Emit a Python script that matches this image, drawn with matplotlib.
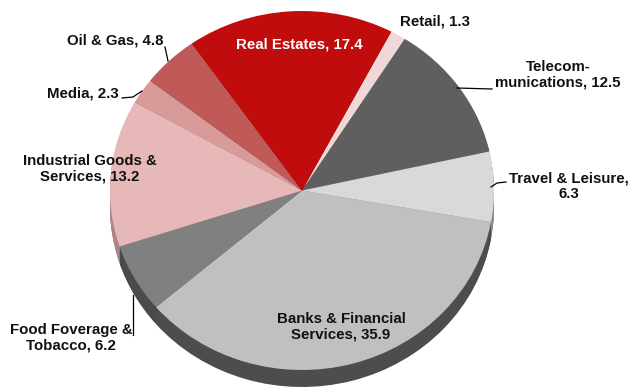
import matplotlib
matplotlib.use('Agg')
import matplotlib.pyplot as plt

sectors = ['Retail', 'Telecom-\nmunications', 'Travel & Leisure,\n', 'Banks & Financial\nServices',
           'Food Foverage &\nTobacco', 'Industrial Goods &\nServices', 'Media', 'Oil & Gas', 'Real Estates']
values = [1.3, 12.5, 6.3, 35.9, 6.2, 13.2, 2.3, 4.8, 17.4]
top_colors = ['#f0d8d8', '#5f5f5f', '#d9d9d9', '#c0c0c0', '#808080', '#e6b8b8', '#d99a9a', '#c05a58', '#c00c0c']
side_colors = ['#a89090', '#4d4d4d', '#8c8c8c', '#4d4d4d', '#4a4a4a', '#b08484', '#a07070', '#8a4040', '#800808']

W, H = 632, 389
cx, cy, rx, ry = 302, 190.5, 192, 179.5
depth = 17
start = 62.3

# label centre in pixels from the top left, and text colour
label_pos = [(435, 21), (558, 75), (569, 186), (341, 327), (71, 338), (90, 169), (83, 93), (115, 40), (299, 44)]
label_colors = ['#111111'] * 8 + ['white']

# leader lines in pixels
leaders = [
    [(165, 47), (168, 61)],
    [(122, 98), (133, 97), (142, 91)],
    [(457, 88), (492, 89)],
    [(491, 187), (497, 183), (506, 182)],
    [(133, 295), (133, 335)],
]

plt.rcParams['font.family'] = ['Liberation Sans', 'DejaVu Sans']

fig = plt.figure(figsize=(W / 100, H / 100), dpi=100)
ax = fig.add_axes([0, 0, 1, 1])

# extruded rim: stacked copies of the pie, lowest first
for d in range(depth, 0, -1):
    ax.pie(values, colors=side_colors, startangle=start, counterclock=False,
           center=(0, -d / ry), wedgeprops={'linewidth': 0})
ax.pie(values, colors=top_colors, startangle=start, counterclock=False,
       wedgeprops={'linewidth': 0})

# unit circle stretched to the ellipse
ax.set_aspect('auto')
ax.set_xlim(-cx / rx, (W - cx) / rx)
ax.set_ylim(-(H - cy) / ry, cy / ry)
ax.axis('off')

overlay = fig.add_axes([0, 0, 1, 1], facecolor='none')
overlay.set_xlim(0, W)
overlay.set_ylim(H, 0)
overlay.axis('off')

for pts in leaders:
    overlay.plot([p[0] for p in pts], [p[1] for p in pts], color='black', lw=0.9)

for name, val, (x, y), col in zip(sectors, values, label_pos, label_colors):
    if name.endswith('\n'):
        txt = name + str(val)
    else:
        txt = name + ', ' + str(val)
    overlay.text(x, y, txt, color=col, ha='center', va='center', fontsize=10.85,
                 fontweight='bold', linespacing=1.18)

fig.savefig('out.png', dpi=100)
